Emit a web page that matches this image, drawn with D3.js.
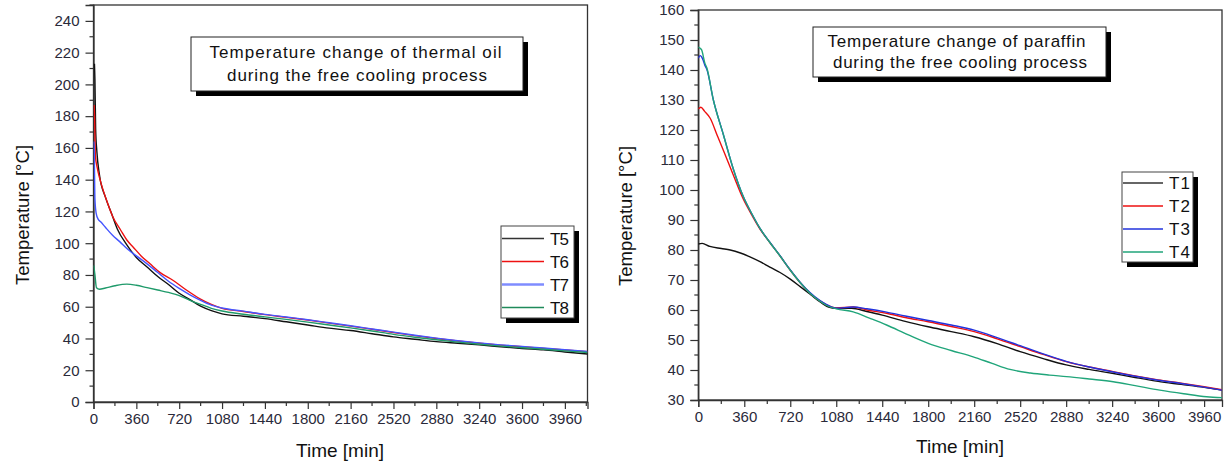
<!DOCTYPE html>
<html><head><meta charset="utf-8">
<script src="https://cdn.jsdelivr.net/npm/d3@7"></script>
<style>
html,body{margin:0;padding:0;background:#fff;}
svg{display:block;font-family:"Liberation Sans",Arial,sans-serif;}
</style></head>
<body><svg id="c" width="1228" height="465"></svg>
<script>
// ---------- Data: left chart (thermal oil) ----------
const oilXTicks = [0,360,720,1080,1440,1800,2160,2520,2880,3240,3600,3960];
const oilYTicks = [0,20,40,60,80,100,120,140,160,180,200,220,240];
const T5 = [[8,213],[12,203],[18,172],[28,158],[50,143],[100,129],[150,119],[200,109],[280,99],[360,91],[450,85],[540,79],[630,74],[720,68.5],[810,64.5],[900,60.3],[990,57.5],[1080,55.5],[1260,54],[1440,52.5],[1620,50.5],[1800,48.5],[1980,46.5],[2160,45],[2340,43],[2520,41],[2700,39.5],[2880,38],[3060,37],[3240,36],[3420,34.8],[3600,33.7],[3780,32.8],[3960,31.5],[4150,30.2]];
const T6 = [[5,187],[9,180],[16,155],[30,148],[55,140],[110,127],[160,117],[230,108],[280,102],[334,97.5],[400,92],[475,87],[560,81.5],[670,76.5],[780,70.5],[895,65],[990,61.5],[1080,59],[1260,57],[1440,55],[1620,53.3],[1800,51.6],[1980,49.7],[2160,47.8],[2340,45.8],[2520,43.8],[2700,41.8],[2880,40],[3060,38.4],[3240,37],[3420,35.8],[3600,34.8],[3780,33.8],[3960,32.7],[4150,31.6]];
const T7 = [[3,164],[6,158],[12,128],[22,119],[40,115],[60,113.5],[100,110],[160,105],[220,101],[290,96],[360,92],[450,87],[540,81.5],[630,76],[720,71.5],[810,67.5],[900,64],[990,61],[1080,59.2],[1260,57.2],[1440,55.2],[1620,53.5],[1800,51.8],[1980,49.9],[2160,48],[2340,46],[2520,44],[2700,42],[2880,40.2],[3060,38.6],[3240,37.2],[3420,36],[3600,35],[3780,34],[3960,32.9],[4150,31.8]];
const T8 = [[2,86],[12,80],[25,72],[50,71],[100,71.8],[180,73.2],[280,74.2],[360,73.5],[450,72],[540,70.5],[630,69],[720,67],[810,64],[900,61.5],[990,59],[1080,57.3],[1260,55.3],[1440,53.6],[1620,52],[1800,50.3],[1980,48.5],[2160,46.7],[2340,44.7],[2520,42.6],[2700,40.8],[2880,39.2],[3060,37.7],[3240,36.4],[3420,35.2],[3600,34.2],[3780,33.2],[3960,32.2],[4150,31.2]];
const oilNames = ["T5","T6","T7","T8"];
const oilColors = ["#111111","#ee1111","#4455ff","#1f9a6a"];
const oilTitle = ["Temperature change of thermal oil","during the free cooling process"];

// ---------- Data: right chart (paraffin) ----------
const parXTicks = [0,360,720,1080,1440,1800,2160,2520,2880,3240,3600,3960];
const parYTicks = [30,40,50,60,70,80,90,100,110,120,130,140,150,160];
const T1 = [[0,82],[30,82.2],[90,81.2],[180,80.5],[250,80],[330,79],[400,77.8],[483,76.1],[560,74.3],[640,72.5],[720,70.3],[800,67.7],[880,65.1],[960,62.5],[1020,61],[1080,60.6],[1200,60.6],[1320,59.5],[1440,58.3],[1620,56.2],[1800,54.4],[1980,52.8],[2160,51.1],[2340,48.8],[2520,46.1],[2700,43.8],[2880,41.7],[3060,40.2],[3240,38.9],[3420,37.5],[3600,36.2],[3780,35.2],[3960,34.2],[4100,33.3]];
const T2 = [[0,127],[20,127.6],[50,126.2],[92,124],[150,118],[200,112.8],[274,105],[352,97],[420,91.6],[483,87],[560,82.5],[640,78],[716,73.5],[800,69],[874,65.7],[950,63.1],[1005,61.7],[1080,60.7],[1213,61],[1320,60],[1474,58.9],[1620,57.5],[1800,56.1],[1980,54.5],[2160,52.8],[2340,50.4],[2520,47.8],[2700,45.2],[2880,42.8],[3060,41],[3240,39.5],[3420,38],[3600,36.7],[3780,35.6],[3960,34.4],[4100,33.4]];
const T3 = [[0,143.9],[15,144.8],[26,144.4],[40,143],[52,141.5],[66,140.3],[118,130],[196,118.5],[274,107],[352,97.8],[420,92],[483,87.2],[560,82.6],[640,78.1],[716,73.6],[800,69.1],[874,65.8],[950,63.2],[1005,61.8],[1080,60.6],[1213,61],[1320,60.4],[1474,59.3],[1620,58],[1800,56.5],[1980,55],[2160,53.3],[2340,50.8],[2520,48.1],[2700,45.4],[2880,42.9],[3060,41],[3240,39.4],[3420,37.9],[3600,36.6],[3780,35.5],[3960,34.3],[4100,33.3]];
const T4 = [[0,147.6],[15,147.2],[26,146.7],[52,142.2],[66,140.8],[118,130],[196,118.5],[274,107],[352,97.8],[420,92],[483,87.2],[560,82.5],[640,78],[716,73.5],[800,69],[874,65.6],[950,63],[1005,61.5],[1080,60.4],[1213,59.4],[1340,57.3],[1474,55],[1640,51.8],[1800,48.9],[1980,46.5],[2152,44.4],[2300,42.2],[2440,40.2],[2600,39],[2750,38.3],[2883,37.8],[3060,37],[3248,36.1],[3420,34.8],[3613,33.3],[3800,32.1],[3979,31.1],[4100,30.8]];
const parNames = ["T1","T2","T3","T4"];
const parColors = ["#111111","#ee1111","#2233dd","#20a57a"];
const parTitle = ["Temperature change of paraffin","during the free cooling process"];

const svg = d3.select("#c");

function drawChart(o){
  const g = svg.append("g");
  const x = d3.scaleLinear().domain(o.xDomain).range([o.left,o.right]);
  const y = d3.scaleLinear().domain(o.yDomain).range([o.bottom,o.top]);
  // frame
  g.append("rect").attr("x",o.left).attr("y",o.top).attr("width",o.right-o.left).attr("height",o.bottom-o.top)
    .attr("fill","none").attr("stroke","#333").attr("stroke-width",1.3);
  // x axis
  const xMinor = d3.range(0, o.xDomain[1]+1, 180).filter(v=>v%360!==0);
  const xa = g.append("g").attr("transform",`translate(0,${o.bottom})`)
    .call(d3.axisBottom(x).tickValues(o.xTicks).tickSize(7).tickPadding(4).tickFormat(d3.format("d")));
  xa.append("g").selectAll("line").data(xMinor).join("line")
    .attr("x1",d=>x(d)).attr("x2",d=>x(d)).attr("y1",0).attr("y2",4);
  // y axis
  const yMinor = d3.range(o.yDomain[0], o.yDomain[1]+0.001, o.yMinorStep).filter(v=>!o.yTicks.includes(v));
  const ya = g.append("g").attr("transform",`translate(${o.left},0)`)
    .call(d3.axisLeft(y).tickValues(o.yTicks).tickSize(8).tickPadding(6));
  ya.append("g").selectAll("line").data(yMinor).join("line")
    .attr("y1",d=>y(d)).attr("y2",d=>y(d)).attr("x1",0).attr("x2",-4);
  [xa,ya].forEach(a=>{
    a.select(".domain").attr("stroke","#333").attr("stroke-width",1.3);
    a.selectAll("line").attr("stroke","#333").attr("stroke-width",1.2);
    a.selectAll("text").attr("fill","#2a2a3a").style("font-size","15px").style("font-family","'Liberation Sans',Arial,sans-serif");
  });
  // axis titles
  g.append("text").attr("x",o.xLabelX).attr("y",o.xLabelY).attr("text-anchor","middle")
    .style("font-size","19px").attr("fill","#111").text("Time [min]");
  g.append("text").attr("transform",`translate(${o.yLabelX},${o.yLabelY}) rotate(-90)`).attr("text-anchor","middle")
    .style("font-size","18.5px").attr("fill","#111").text("Temperature [°C]");
  // lines
  const line = d3.line().x(d=>x(d[0])).y(d=>y(d[1])).curve(d3.curveMonotoneX);
  const clipId = "clip"+o.id;
  g.append("clipPath").attr("id",clipId).append("rect").attr("x",o.left).attr("y",o.top)
    .attr("width",o.right-o.left).attr("height",o.bottom-o.top);
  const lg = g.append("g").attr("clip-path",`url(#${clipId})`);
  o.series.forEach((s,i)=>{
    lg.append("path").datum(s).attr("d",line).attr("fill","none")
      .attr("stroke",o.colors[i]).attr("stroke-width",1.4);
  });
  // title box
  const tb = o.titleBox;
  g.append("rect").attr("x",tb.x+5).attr("y",tb.y+5).attr("width",tb.w).attr("height",tb.h).attr("fill","#000");
  g.append("rect").attr("x",tb.x).attr("y",tb.y).attr("width",tb.w).attr("height",tb.h).attr("fill","#fff").attr("stroke","#222").attr("stroke-width",1);
  o.title.forEach((t,i)=>{
    g.append("text").attr("x",tb.cx[i]).attr("y",tb.ty[i]).attr("text-anchor","middle")
      .style("font-size","17px").attr("fill","#111").attr("textLength",tb.tl[i]).attr("lengthAdjust","spacing").text(t);
  });
  // legend
  const lb = o.legend;
  g.append("rect").attr("x",lb.x+5).attr("y",lb.y+5).attr("width",lb.w).attr("height",lb.h).attr("fill","#000");
  g.append("rect").attr("x",lb.x).attr("y",lb.y).attr("width",lb.w).attr("height",lb.h).attr("fill","#fff").attr("stroke","#444").attr("stroke-width",1);
  o.names.forEach((n,i)=>{
    const yy = lb.y + lb.first + i*lb.step;
    g.append("line").attr("x1",lb.x+1).attr("x2",lb.x+lb.lineLen).attr("y1",yy).attr("y2",yy)
      .attr("stroke",o.legendColors[i]).attr("stroke-width",o.legendWidths[i]);
    g.append("text").attr("x",lb.x+lb.lineLen+6).attr("y",yy+6).style("font-size","17px")
      .attr("fill","#111").attr("textLength",lb.tl).attr("lengthAdjust","spacing").text(n);
  });
}

drawChart({
  id:"L", left:93.5, right:587.5, top:5, bottom:402,
  xDomain:[0,4150], yDomain:[0,250], yMinorStep:10,
  xTicks:oilXTicks, yTicks:oilYTicks,
  series:[T5,T6,T7,T8], colors:oilColors, names:oilNames,
  legendColors:["#333","#ee1111","#7f8cff","#1f8a5a"], legendWidths:[1.3,1.3,2.4,1.3],
  xLabelX:340, xLabelY:457, yLabelX:29, yLabelY:215,
  title:oilTitle,
  titleBox:{x:191,y:37,w:332,h:54,cx:[355.5,357],ty:[58,81],tl:[292,260]},
  legend:{x:501,y:226,w:73,h:92,first:12.5,step:23,lineLen:43,tl:19}
});
drawChart({
  id:"R", left:698.3, right:1222, top:10, bottom:400,
  xDomain:[0,4100], yDomain:[30,160], yMinorStep:5,
  xTicks:parXTicks, yTicks:parYTicks,
  series:[T1,T2,T3,T4], colors:parColors, names:parNames,
  legendColors:["#333","#ee1111","#2233dd","#20a57a"], legendWidths:[1.3,1.3,1.3,1.3],
  xLabelX:960, xLabelY:453, yLabelX:632, yLabelY:216,
  title:parTitle,
  titleBox:{x:813,y:27,w:293,h:50,cx:[956.5,960],ty:[47,68],tl:[258,254]},
  legend:{x:1122,y:172,w:71,h:90,first:11,step:23,lineLen:41,tl:21}
});
</script></body></html>
